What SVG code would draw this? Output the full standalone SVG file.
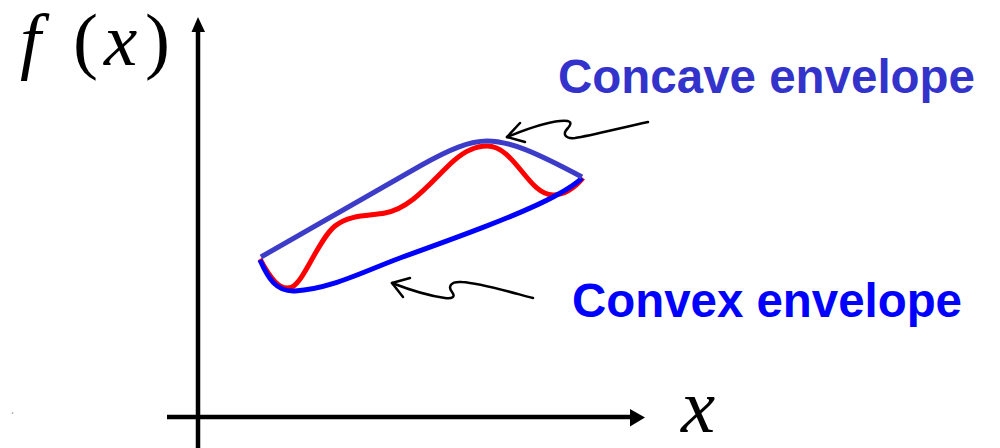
<svg xmlns="http://www.w3.org/2000/svg" width="1000" height="448" viewBox="0 0 1000 448">
<style>
.ax{stroke:#000;stroke-width:4.5;fill:none}
.math{font-family:"Liberation Serif","Times New Roman",serif;fill:#000}
.lbl{font-family:"Liberation Sans",Arial,sans-serif;font-weight:bold;font-size:48px}
.env{fill:none;stroke-width:5;stroke-linecap:butt;stroke-linejoin:round}
.ptr{fill:none;stroke:#000;stroke-width:2.5;stroke-linecap:round;stroke-linejoin:round}
</style>
<rect width="1000" height="448" fill="#fff"/>
<g id="axes">
<line class="ax" x1="198" y1="448" x2="198" y2="32"/>
<path d="M191.5,32 L198,17 L205,32 Z" fill="#000"/>
<line class="ax" x1="167" y1="417" x2="631" y2="417"/>
<path d="M630,409 L645,417.5 L630,426.5 Z" fill="#000"/>
<text class="math" font-size="75" y="65"><tspan x="20" font-style="italic">f</tspan><tspan x="73">(</tspan><tspan x="104" font-style="italic">x</tspan><tspan x="145">)</tspan></text>
<text class="math" font-size="77" x="681" y="432" font-style="italic">x</text>
<path d="M12,414 L13,412" stroke="#999" stroke-width="1"/>
</g>
<g id="function">
<path class="env" stroke="#ff0000" d="M260,259 C 270,278 280,292 292,287 C 305,280 318,240 335,226 C 350,214 370,216 385,213 C 420,207 445,160 470,150 C 478,146 482,146 487,146 C 515,146 528,195 553,195 C 568,195 578,184 583,178"/>
</g>
<g id="convex">
<path class="env" stroke="#0000ff" d="M260,260 C 268,278 276,292 295,291 C 330,289 360,273 400,258 C 450,240 520,215 555,196 C 568,189 577,183 582,178"/>
</g>
<g id="concave">
<path class="env" stroke="#3c3cc8" d="M261,257 L420,166 C 450,149 470,141 487,141 C 510,141 535,152 582,177"/>
</g>
<g id="connectors">
<path class="ptr" d="M648,122 C 620,128 590,136 575,138 C 565,139 562,134 568,128 C 573,122 570,120 560,121 C 540,123 520,132 507,137"/>
<path class="ptr" d="M520,123 L507,137 L525,142"/>
<path class="ptr" d="M533,298 C 510,292 480,283 462,282 C 450,281 448,287 452,292 C 456,297 452,299 445,298 C 430,296 410,290 392,283"/>
<path class="ptr" d="M410,278 L392,283 L403,297"/>
</g>
<g id="label-concave">
<text class="lbl" x="558" y="93" fill="#3333cc" textLength="417" lengthAdjust="spacingAndGlyphs">Concave envelope</text>
</g>
<g id="label-convex">
<text class="lbl" x="572" y="317" fill="#0000ff" textLength="390" lengthAdjust="spacingAndGlyphs">Convex envelope</text>
</g>
</svg>
